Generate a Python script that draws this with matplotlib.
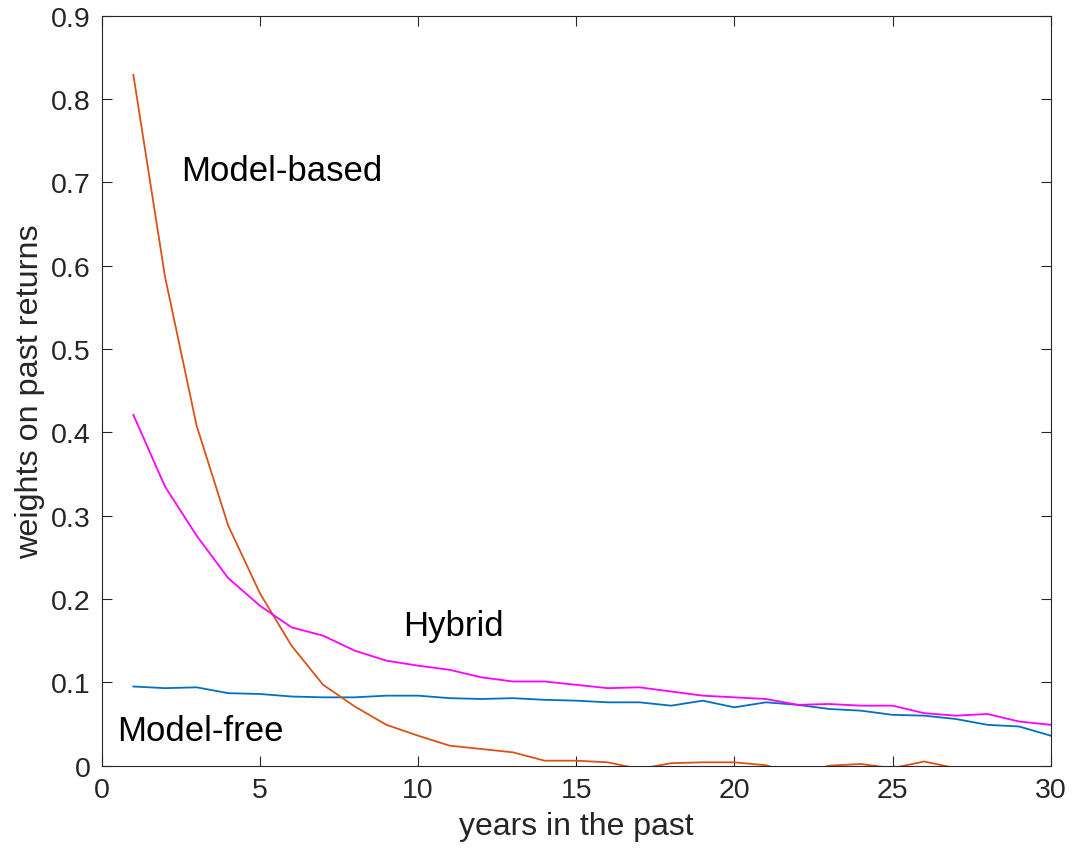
import matplotlib
matplotlib.use("Agg")
import matplotlib.pyplot as plt

# weights on past returns, lags 1..30 years
years = list(range(1, 31))
model_free = [0.095, 0.093, 0.094, 0.087, 0.086, 0.083, 0.082, 0.082, 0.084, 0.084,
              0.081, 0.080, 0.081, 0.079, 0.078, 0.076, 0.076, 0.072, 0.078, 0.070,
              0.076, 0.073, 0.068, 0.066, 0.061, 0.060, 0.056, 0.049, 0.047, 0.036]
model_based = [0.829, 0.587, 0.408, 0.288, 0.207, 0.144, 0.097, 0.071, 0.049, 0.036,
               0.024, 0.020, 0.016, 0.006, 0.006, 0.004, -0.004, 0.003, 0.004, 0.004,
               0.0005, -0.010, 0.000, 0.002, -0.003, 0.005, -0.003, -0.008, -0.010, -0.012]
hybrid = [0.421, 0.335, 0.276, 0.225, 0.192, 0.166, 0.156, 0.138, 0.126, 0.120,
          0.115, 0.106, 0.101, 0.101, 0.097, 0.093, 0.094, 0.089, 0.084, 0.082,
          0.080, 0.073, 0.074, 0.072, 0.072, 0.063, 0.060, 0.062, 0.053, 0.049]

plt.rcParams["font.family"] = ["Liberation Sans", "DejaVu Sans"]
axis_gray = (0.15, 0.15, 0.15)

fig = plt.figure(figsize=(10.74, 8.62), dpi=100)
ax = fig.add_axes([0.0947, 0.1106, 0.8836, 0.8701])

ax.plot(years, model_free, color=(0.0, 0.447, 0.741), lw=1.3)
ax.plot(years, model_based, color=(0.85, 0.325, 0.098), lw=1.3)
ax.plot(years, hybrid, color=(1.0, 0.0, 1.0), lw=1.3)

ax.text(2.5, 0.714, "Model-based", fontsize=25, va="center", ha="left")
ax.text(9.52, 0.168, "Hybrid", fontsize=25, va="center", ha="left")
ax.text(0.48, 0.042, "Model-free", fontsize=25, va="center", ha="left")

ax.set_xlim(0, 30)
ax.set_ylim(0, 0.9)
ax.set_xticks([0, 5, 10, 15, 20, 25, 30])
ax.set_yticks([0, 0.1, 0.2, 0.3, 0.4, 0.5, 0.6, 0.7, 0.8, 0.9])
ax.set_yticklabels(["0", "0.1", "0.2", "0.3", "0.4", "0.5", "0.6", "0.7", "0.8", "0.9"])

ax.tick_params(direction="in", length=7, width=0.8, colors=axis_gray,
               labelsize=20.5, top=True, right=True, pad=8)
for s in ax.spines.values():
    s.set_color(axis_gray)
    s.set_linewidth(0.8)

ax.set_xlabel("years in the past", fontsize=23, color=axis_gray, labelpad=6)
ax.set_ylabel("weights on past returns", fontsize=23.3, color=axis_gray, labelpad=4)

fig.savefig("out.png", dpi=100)
